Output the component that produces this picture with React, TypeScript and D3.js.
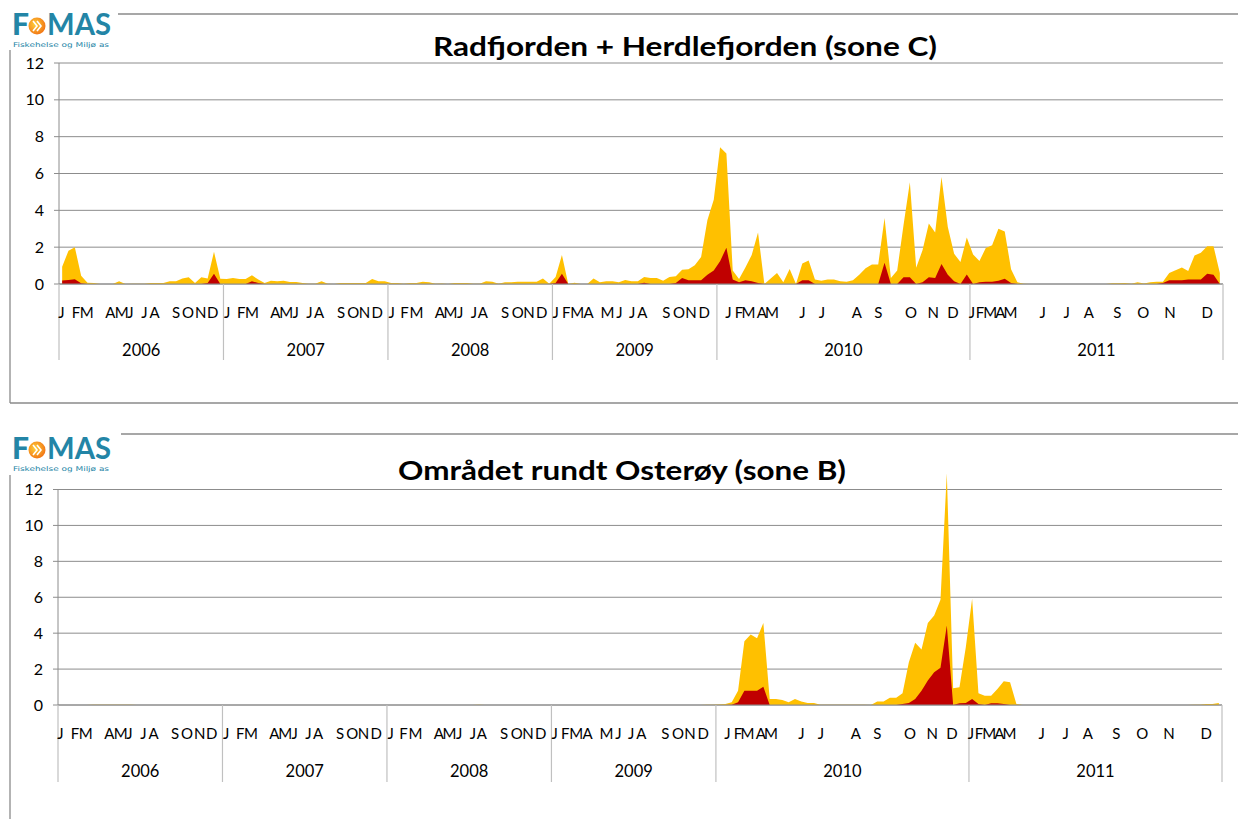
import React from 'react'
import * as d3 from 'd3'

const years = ['2006', '2007', '2008', '2009', '2010', '2011']
const yearSizes = [26, 26, 26, 26, 40, 40]
const monthLetters = ['J', 'F', 'M', 'A', 'M', 'J', 'J', 'A', 'S', 'O', 'N', 'D']
// where each month letter sits inside its year, in sample (category) units
const monthLabelPos = [
	[0.4, 2.7, 4.4, 8.1, 9.9, 11.3, 13.5, 15.1, 18.5, 20.4, 22.4, 24.3],
	[0.6, 2.8, 4.5, 8.2, 9.9, 11.4, 13.6, 15.1, 18.6, 20.5, 22.3, 24.3],
	[0.6, 2.6, 4.5, 8.2, 9.9, 11.4, 13.6, 15.0, 18.5, 20.5, 22.3, 24.3],
	[0.5, 2.2, 3.9, 5.7, 8.7, 10.6, 12.6, 14.2, 18.0, 20.0, 21.9, 24.0],
	[1.8, 3.5, 5.0, 7.1, 8.7, 13.5, 16.6, 22.1, 25.5, 30.7, 34.2, 37.3],
	[0.3, 1.6, 3.2, 4.8, 6.4, 11.5, 15.3, 18.8, 23.3, 27.4, 31.6, 37.5],
]
const yTicks = [0, 2, 4, 6, 8, 10, 12]

// Radfjorden + Herdlefjorden (sone C)
const soneCYellow = [
	// 2006
	0.93, 1.81, 2.0, 0.45, 0.07, 0.05, 0, 0, 0, 0.15, 0, 0.02, 0.02, 0.02, 0.05, 0.05, 0.05, 0.15, 0.15, 0.3, 0.37, 0.06, 0.37, 0.3, 1.75, 0.28,
	// 2007
	0.27, 0.33, 0.27, 0.27, 0.47, 0.24, 0.05, 0.18, 0.15, 0.18, 0.11, 0.11, 0.05, 0.02, 0.02, 0.15, 0.02, 0, 0.05, 0.05, 0.05, 0.05, 0.05, 0.27, 0.15, 0.15,
	// 2008
	0.05, 0.05, 0.02, 0.05, 0.05, 0.12, 0.1, 0.02, 0.03, 0, 0.05, 0.05, 0.05, 0.02, 0.02, 0.15, 0.12, 0.02, 0.1, 0.1, 0.12, 0.12, 0.12, 0.12, 0.3, 0.02,
	// 2009
	0.38, 1.57, 0, 0.07, 0, 0, 0.3, 0.1, 0.15, 0.15, 0.1, 0.22, 0.15, 0.15, 0.38, 0.33, 0.33, 0.18, 0.38, 0.42, 0.77, 0.8, 1.02, 1.46, 3.47, 4.57,
	// 2010
	7.42, 7.09, 0.73, 0.27, 0.9, 1.57, 2.8, 0, 0.3, 0.6, 0.1, 0.82, 0, 1.11, 1.28, 0.24, 0.18, 0.24, 0.24, 0.15,
	0.12, 0.2, 0.5, 0.85, 1.06, 1.06, 3.58, 0.33, 0.73, 3.2, 5.53, 0.88, 1.83, 3.29, 2.8, 5.81, 3.1, 1.64, 1.2, 2.52,
	// 2011
	1.6, 1.25, 1.95, 2.1, 3.0, 2.85, 0.8, 0.1, 0.02, 0, 0, 0, 0, 0, 0, 0, 0, 0, 0, 0,
	0, 0, 0.04, 0.04, 0.05, 0.02, 0.1, 0.03, 0.1, 0.12, 0.12, 0.6, 0.75, 0.9, 0.7, 1.55, 1.7, 2.05, 2.05, 0.6,
]
const soneCRed = [
	// 2006
	0.19, 0.22, 0.26, 0.04, 0, 0, 0, 0, 0, 0, 0, 0, 0, 0, 0, 0, 0, 0, 0, 0, 0, 0, 0, 0.05, 0.56, 0,
	// 2007
	0, 0, 0, 0, 0.15, 0.05, 0, 0, 0, 0, 0, 0, 0, 0, 0, 0, 0, 0, 0, 0, 0, 0, 0, 0, 0, 0,
	// 2008
	0, 0, 0, 0, 0, 0, 0, 0, 0, 0, 0, 0, 0, 0, 0, 0, 0, 0, 0, 0, 0, 0, 0, 0, 0, 0,
	// 2009
	0.05, 0.55, 0, 0, 0, 0, 0, 0, 0, 0, 0, 0, 0, 0, 0.07, 0, 0, 0, 0, 0.05, 0.33, 0.2, 0.2, 0.2, 0.5, 0.73,
	// 2010
	1.24, 1.97, 0.24, 0.1, 0.2, 0.15, 0.05, 0, 0, 0, 0, 0, 0, 0.2, 0.2, 0, 0, 0, 0, 0,
	0, 0, 0, 0, 0, 0, 1.15, 0, 0, 0.36, 0.36, 0, 0.1, 0.37, 0.32, 1.08, 0.5, 0.15, 0, 0.52,
	// 2011
	0, 0.1, 0.12, 0.12, 0.17, 0.28, 0.05, 0, 0, 0, 0, 0, 0, 0, 0, 0, 0, 0, 0, 0,
	0, 0, 0, 0, 0, 0, 0, 0, 0, 0, 0.05, 0.2, 0.2, 0.2, 0.25, 0.25, 0.25, 0.55, 0.5, 0,
]

// Området rundt Osterøy (sone B)
const soneBYellow = [
	// 2006
	0, 0, 0, 0, 0, 0.02, 0.02, 0.02, 0.02, 0.02, 0.02, 0.02, 0, 0, 0, 0, 0, 0, 0, 0, 0, 0, 0, 0, 0, 0,
	// 2007
	0, 0, 0, 0, 0, 0, 0, 0, 0, 0, 0, 0, 0, 0, 0, 0, 0, 0, 0, 0, 0, 0, 0, 0, 0, 0,
	// 2008
	0, 0, 0, 0, 0, 0, 0, 0, 0, 0, 0, 0, 0, 0, 0.02, 0, 0, 0, 0, 0, 0, 0, 0, 0, 0, 0,
	// 2009
	0, 0, 0, 0, 0, 0, 0, 0, 0, 0, 0, 0, 0, 0, 0, 0, 0, 0, 0, 0, 0, 0, 0, 0, 0.02, 0.02,
	// 2010
	0.03, 0.05, 0.15, 0.8, 3.55, 3.93, 3.72, 4.56, 0.33, 0.33, 0.28, 0.15, 0.33, 0.19, 0.11, 0.11, 0.02, 0.02, 0.02, 0.02,
	0.02, 0.02, 0.02, 0.02, 0, 0.2, 0.2, 0.41, 0.41, 0.65, 2.38, 3.46, 3.09, 4.56, 4.99, 5.86, 12.9, 0.93, 0.99, 3.22,
	// 2011
	5.92, 0.65, 0.52, 0.52, 0.89, 1.32, 1.27, 0.05, 0, 0, 0, 0, 0, 0, 0, 0, 0, 0, 0, 0,
	0, 0, 0, 0, 0, 0, 0, 0, 0, 0, 0, 0, 0, 0, 0, 0.02, 0.02, 0.05, 0.05, 0.11,
]
const soneBRed = [
	// 2006
	0, 0, 0, 0, 0, 0, 0, 0, 0, 0, 0, 0, 0, 0, 0, 0, 0, 0, 0, 0, 0, 0, 0, 0, 0, 0,
	// 2007
	0, 0, 0, 0, 0, 0, 0, 0, 0, 0, 0, 0, 0, 0, 0, 0, 0, 0, 0, 0, 0, 0, 0, 0, 0, 0,
	// 2008
	0, 0, 0, 0, 0, 0, 0, 0, 0, 0, 0, 0, 0, 0, 0, 0, 0, 0, 0, 0, 0, 0, 0, 0, 0, 0,
	// 2009
	0, 0, 0, 0, 0, 0, 0, 0, 0, 0, 0, 0, 0, 0, 0, 0, 0, 0, 0, 0, 0, 0, 0, 0, 0, 0,
	// 2010
	0, 0, 0.02, 0.15, 0.8, 0.8, 0.8, 1.02, 0, 0, 0, 0, 0, 0, 0, 0, 0, 0, 0, 0,
	0, 0, 0, 0, 0, 0, 0, 0, 0, 0.05, 0.11, 0.33, 0.8, 1.36, 1.82, 2.07, 4.43, 0, 0.1, 0.11,
	// 2011
	0.33, 0.05, 0, 0.1, 0.1, 0.05, 0, 0, 0, 0, 0, 0, 0, 0, 0, 0, 0, 0, 0, 0,
	0, 0, 0, 0, 0, 0, 0, 0, 0, 0, 0, 0, 0, 0, 0, 0, 0, 0, 0, 0,
]

const FONT = 'Lato, "Liberation Sans", sans-serif'
const TEAL = '#2385a6'
const GOLD = '#ffc000'
const RED = '#c00000'
const GRID = '#8c8c8c'
const SEP = '#c0c0c0'

const nCat = d3.sum(yearSizes)
const yearOffsets = yearSizes.map((_, i) => d3.sum(yearSizes.slice(0, i)))

function Logo({ x, y, id }) {
	return (
		<g transform={`translate(${x},${y})`}>
			<defs>
				<radialGradient id={id} cx="40%" cy="40%" r="70%">
					<stop offset="0%" stopColor="#ffd23a" />
					<stop offset="100%" stopColor="#f06a10" />
				</radialGradient>
			</defs>
			<text x={1} y={25} fontFamily={FONT} fontWeight={900} fontSize={30} fill={TEAL}>
				F
			</text>
			<circle cx={26} cy={16} r={8.5} fill={`url(#${id})`} />
			<path d="M22,11 L26,16 L22,21 M26,11 L30,16 L26,21" stroke="#fff" strokeWidth={1.6} fill="none" />
			<text x={36} y={25} fontFamily={FONT} fontWeight={700} fontSize={30} fill={TEAL} textLength={64} lengthAdjust="spacingAndGlyphs">
				MAS
			</text>
			<text x={2} y={36.5} fontFamily="'DejaVu Sans', sans-serif" fontSize={6.5} fill={TEAL} textLength={96} lengthAdjust="spacingAndGlyphs">
				Fiskehelse og Miljø as
			</text>
		</g>
	)
}

function Panel({ title, yellow, red, L, id }) {
	const x = d3
		.scaleBand()
		.domain(d3.range(nCat))
		.range([L.left, L.right])
		.paddingInner(0)
		.paddingOuter(0)
	const cx = (i) => x(i) + x.bandwidth() / 2
	// continuous view of the same axis, for the month letters
	const xc = d3.scaleLinear().domain([0, nCat]).range([L.left, L.right])
	const y = d3.scaleLinear().domain([0, 12]).range([L.y0, L.y12])

	const area = d3
		.area()
		.x((d, i) => cx(i))
		.y0(y(0))
		.y1((d) => y(d))

	const yearEdges = yearOffsets.map((o) => x(o)).concat([L.right])

	return (
		<g>
			{/* chart frame */}
			<line x1={L.frameLeft} x2={1240} y1={L.frameTop} y2={L.frameTop} stroke="#8a8a8a" strokeWidth={1.3} />
			<line x1={L.frameLeft} x2={L.frameLeft} y1={L.frameTop} y2={L.frameBottom} stroke="#8a8a8a" strokeWidth={1.3} />
			{L.frameBottom < 819 && (
				<line x1={L.frameLeft} x2={1240} y1={L.frameBottom} y2={L.frameBottom} stroke="#8a8a8a" strokeWidth={1.3} />
			)}
			<rect x={0} y={L.frameTop - 14} width={L.logoW} height={L.logoH} fill="#fff" />
			<Logo x={L.logoX} y={L.logoY} id={id} />

			<text
				x={L.titleX}
				y={L.titleY}
				textAnchor="middle"
				fontFamily={FONT}
				fontWeight={700}
				fontSize={27}
				textLength={L.titleW}
				lengthAdjust="spacingAndGlyphs"
			>
				{title}
			</text>

			{/* gridlines and y axis */}
			{yTicks.map((t) => (
				<g key={t}>
					<line x1={L.left} x2={L.right} y1={y(t)} y2={y(t)} stroke={GRID} strokeWidth={1} />
					<line x1={L.left - 5} x2={L.left} y1={y(t)} y2={y(t)} stroke={GRID} strokeWidth={1} />
					<text x={L.left - 15} y={y(t) + 5.5} textAnchor="end" fontFamily={FONT} fontSize={16}>
						{t}
					</text>
				</g>
			))}
			<line x1={L.left} x2={L.left} y1={y(12)} y2={y(0)} stroke={GRID} strokeWidth={1} />

			{/* areas */}
			<path d={area(yellow)} fill={GOLD} />
			<path d={area(red)} fill={RED} />

			{/* category axis */}
			<line x1={L.left} x2={L.right} y1={y(0)} y2={y(0)} stroke={GRID} strokeWidth={1} />
			{yearEdges.map((e, i) => (
				<line key={i} x1={e} x2={e} y1={y(0)} y2={L.sepBottom} stroke={SEP} strokeWidth={1.2} />
			))}
			{years.map((yr, k) => (
				<g key={yr}>
					{monthLabelPos[k].map((p, j) => (
						<text
							key={j}
							x={xc(yearOffsets[k] + p)}
							y={L.monthY}
							textAnchor="middle"
							fontFamily={FONT}
							fontSize={15}
						>
							{monthLetters[j]}
						</text>
					))}
					<text
						x={(yearEdges[k] + yearEdges[k + 1]) / 2}
						y={L.yearY}
						textAnchor="middle"
						fontFamily={FONT}
						fontSize={16.5}
					>
						{yr}
					</text>
				</g>
			))}
		</g>
	)
}

const topLayout = {
	frameLeft: 10,
	frameTop: 14,
	frameBottom: 403,
	logoW: 118,
	logoH: 50,
	logoX: 11,
	logoY: 10,
	left: 59,
	right: 1223,
	y0: 284,
	y12: 63,
	titleX: 685,
	titleY: 56,
	titleW: 504,
	monthY: 318,
	yearY: 356,
	sepBottom: 360,
}

const bottomLayout = {
	frameLeft: 10,
	frameTop: 434,
	frameBottom: 830,
	logoW: 121,
	logoH: 55,
	logoX: 11,
	logoY: 434,
	left: 58,
	right: 1222,
	y0: 705,
	y12: 489.5,
	titleX: 622,
	titleY: 480,
	titleW: 448,
	monthY: 739,
	yearY: 777,
	sepBottom: 782,
}

export default function App() {
	return (
		<svg width={1238} height={819} style={{ position: 'absolute', left: 0, top: 0, background: '#fff' }}>
			<rect width={1238} height={819} fill="#fff" />
			<Panel title="Radfjorden + Herdlefjorden (sone C)" yellow={soneCYellow} red={soneCRed} L={topLayout} id="ballC" />
			<Panel title="Området rundt Osterøy (sone B)" yellow={soneBYellow} red={soneBRed} L={bottomLayout} id="ballB" />
		</svg>
	)
}
